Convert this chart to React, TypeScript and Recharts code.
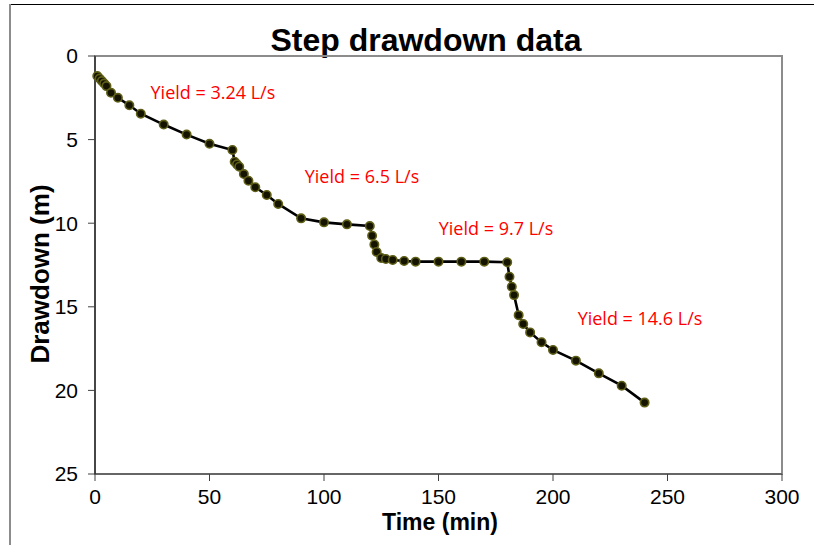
import { LineChart, Line, XAxis, YAxis, ReferenceArea, ReferenceDot } from 'recharts';

// elapsed pumping time (min) and drawdown (m)
const times = [
  1, 2, 3, 4, 5, 7, 10, 15, 20, 30, 40, 50, 60,
  61, 62, 63, 65, 67, 70, 75, 80, 90, 100, 110, 120,
  121, 122, 123, 125, 127, 130, 135, 140, 150, 160, 170, 180,
  181, 182, 183, 185, 187, 190, 195, 200, 210, 220, 230, 240,
];
const drawdowns = [
  1.2, 1.35, 1.5, 1.65, 1.8, 2.2, 2.5, 2.95, 3.45, 4.1, 4.7, 5.25, 5.62,
  6.32, 6.48, 6.62, 7.06, 7.46, 7.85, 8.31, 8.85, 9.71, 9.95, 10.07, 10.17,
  10.75, 11.27, 11.72, 12.08, 12.14, 12.2, 12.26, 12.3, 12.3, 12.3, 12.3, 12.34,
  13.2, 13.8, 14.3, 15.5, 16.03, 16.53, 17.12, 17.58, 18.22, 18.98, 19.72, 20.73,
];

const xTicks = [0, 50, 100, 150, 200, 250, 300];
const yTicks = [0, 5, 10, 15, 20, 25];

// step labels, anchored in data units (time, drawdown)
const yieldLabels = ['Yield = 3.24 L/s', 'Yield = 6.5 L/s', 'Yield = 9.7 L/s', 'Yield = 14.6 L/s'];
const yieldAtTime = [51.5, 116.6, 175.1, 238];
const yieldAtDrawdown = [2.2, 7.24, 10.3, 15.7];

const FONT = '"Liberation Sans", Arial, sans-serif';

export default function App() {
  const data = times.map((t, i) => ({ t, d: drawdowns[i] }));

  // eslint-disable-next-line @typescript-eslint/no-explicit-any
  const renderDot = (props: any) => {
    const { cx, cy, index } = props;
    return (
      <circle key={`dot-${index}`} cx={cx} cy={cy} r={4.2} fill="#141400" stroke="#5e5e17" strokeWidth={1.6} />
    );
  };

  return (
    <div style={{ position: 'absolute', left: 0, top: 0, width: 814, height: 545, background: '#fff', fontFamily: FONT }}>
      {/* outer chart frame */}
      <div style={{ position: 'absolute', left: 10, top: 4, right: 0, height: 1, background: '#000' }} />
      <div style={{ position: 'absolute', left: 9, top: 4, bottom: 0, width: 2, background: '#8c8c8c' }} />

      <div style={{ position: 'absolute', left: 226, width: 400, top: 21, textAlign: 'center', fontWeight: 'bold', fontSize: 32, lineHeight: '38px' }}>
        Step drawdown data
      </div>

      <LineChart
        width={814}
        height={545}
        data={data}
        margin={{ top: 56, right: 32, bottom: 41, left: 65 }}
        style={{ position: 'absolute', left: 0, top: 0 }}
      >
        <ReferenceArea x1={0} x2={300} y1={0} y2={25} fill="none" stroke="#8c8c8c" strokeWidth={2} ifOverflow="visible" />
        <XAxis
          dataKey="t"
          type="number"
          domain={[0, 300]}
          ticks={xTicks}
          height={30}
          tickSize={7}
          tickMargin={8}
          tick={{ fill: '#000', fontSize: 21, fontFamily: FONT }}
          axisLine={{ stroke: '#404040', strokeWidth: 1 }}
          tickLine={{ stroke: '#404040' }}
        />
        <YAxis
          dataKey="d"
          type="number"
          reversed
          domain={[0, 25]}
          ticks={yTicks}
          width={30}
          tickSize={7}
          tickMargin={10}
          tick={{ fill: '#000', fontSize: 21, fontFamily: FONT }}
          axisLine={{ stroke: '#000', strokeWidth: 1 }}
          tickLine={{ stroke: '#404040' }}
        />
        <Line
          dataKey="d"
          type="linear"
          stroke="#000"
          strokeWidth={2.6}
          dot={renderDot}
          isAnimationActive={false}
        />
        {yieldLabels.map((text, i) => (
          <ReferenceDot
            key={text}
            x={yieldAtTime[i]}
            y={yieldAtDrawdown[i]}
            r={0}
            fill="none"
            stroke="none"
            label={{ value: text, position: 'center', fill: '#ff0000', fontSize: 18, fontFamily: '"Open Sans", sans-serif' }}
          />
        ))}
      </LineChart>

      <div style={{ position: 'absolute', left: 240, width: 400, top: 508, textAlign: 'center', fontWeight: 'bold', fontSize: 23, lineHeight: '28px' }}>
        Time (min)
      </div>
      <div
        style={{
          position: 'absolute',
          left: 40 - 150,
          top: 274 - 15,
          width: 300,
          textAlign: 'center',
          fontWeight: 'bold',
          fontSize: 26,
          lineHeight: '30px',
          transform: 'rotate(-90deg)',
        }}
      >
        Drawdown (m)
      </div>
    </div>
  );
}
